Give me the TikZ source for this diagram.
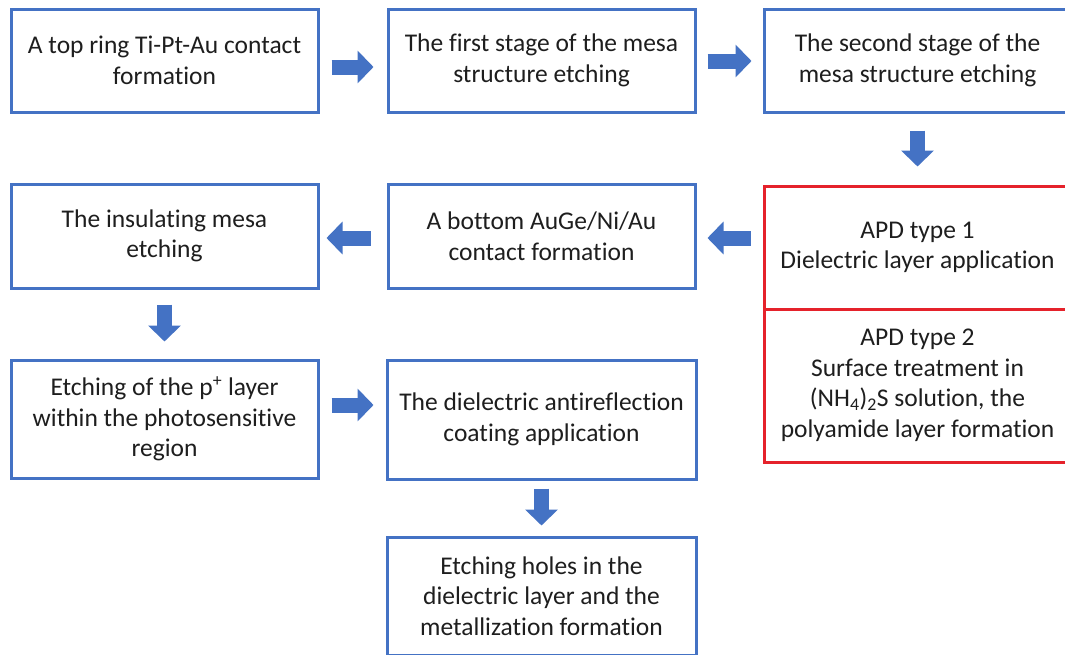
\documentclass[tikz,border=0pt]{standalone}
\usepackage{fontspec}
\setmainfont{Carlito}[RawFeature={-liga;-clig;-calt;-dlig}]
\usetikzlibrary{arrows.meta}
\definecolor{boxblue}{HTML}{4472C4}
\definecolor{boxred}{HTML}{E5222B}
\definecolor{txt}{HTML}{1E1E1E}
\tikzset{
  stepbox/.style={draw=boxblue, line width=3pt, fill=white, rectangle,
    minimum width=307pt, align=center, text=txt,
    font=\fontsize{25.5}{30.5}\selectfont, inner sep=0pt},
  redbox/.style={stepbox, draw=boxred},
  blk/.style={draw=boxblue, line width=15pt,
    -{Triangle[width=32pt,length=16pt]}, color=boxblue}
}
\begin{document}
\begin{tikzpicture}[x=1pt,y=-1pt]
\useasboundingbox (0,0) rectangle (1065,654);
\clip (0,0) rectangle (1065,654);
\fill[white] (0,0) rectangle (1065,654);
% row 1
\node[stepbox, minimum height=103pt] (b1) at (164.5,60.5) {A top ring Ti-Pt-Au contact\\formation};
\node[stepbox, minimum height=103pt] (b2) at (541.5,60.5) {The first stage of the mesa\\structure etching};
\node[stepbox, minimum height=103pt] (b3) at (917.5,60.5) {The second stage of the\\mesa structure etching};
% row 2
\node[stepbox, minimum height=104pt] (b4) at (164.5,236) {The insulating mesa\\etching};
\node[stepbox, minimum height=104pt] (b5) at (541.5,236) {A bottom AuGe/Ni/Au\\contact formation};
\node[redbox, minimum height=123pt] (r1) at (917.5,247.5) {APD type 1\\Dielectric layer application};
\node[redbox, minimum height=153pt] (r2) at (917.5,385.5) {APD type 2\\Surface treatment in\\(NH\textsubscript{4})\textsubscript{2}S solution, the\\polyamide layer formation};
% row 3
\node[stepbox, minimum height=118pt] (b6) at (164.5,419) {Etching of the p\textsuperscript{+} layer\\within the photosensitive\\region};
\node[stepbox, minimum height=119pt, minimum width=309pt] (b7) at (541.5,419.5) {The dielectric antireflection\\coating application};
\node[stepbox, minimum height=118pt, minimum width=309pt] (b8) at (541.5,596) {Etching holes in the\\dielectric layer and the\\metallization formation};
% arrows
\draw[blk, shorten <=12pt, shorten >=13pt] ([yshift=-6.5pt]b1.east) -- ([yshift=-6.5pt]b2.west);
\draw[blk, shorten <=11pt, shorten >=11pt] ([yshift=-0.5pt]b2.east) -- ([yshift=-0.5pt]b3.west);
\draw[blk, shorten <=17pt, shorten >=18pt] (b3.south) -- (r1.north);
\draw[blk, shorten <=12pt, shorten >=11pt] ([yshift=9.5pt]r1.west) -- ([yshift=-2pt]b5.east);
\draw[blk, shorten <=16pt, shorten >=7pt] ([yshift=-2pt]b5.west) -- ([yshift=-2pt]b4.east);
\draw[blk, shorten <=15pt, shorten >=17pt] (b4.south) -- (b6.north);
\draw[blk, shorten <=12pt, shorten >=12pt] ([yshift=14pt]b6.east) -- ([yshift=14.5pt]b7.west);
\draw[blk, shorten <=8pt, shorten >=10pt] (b7.south) -- (b8.north);
\end{tikzpicture}
\end{document}
